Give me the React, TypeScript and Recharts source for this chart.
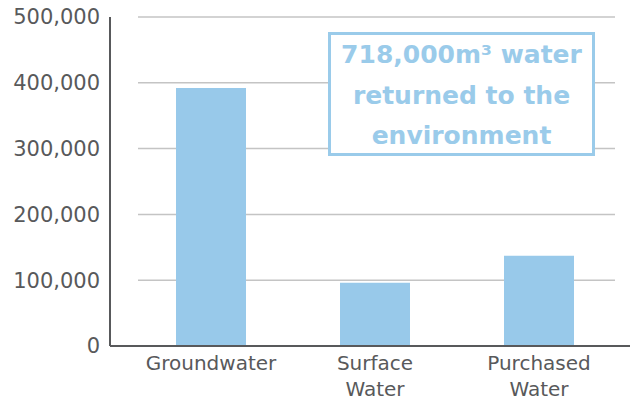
import React from "react";
import { BarChart, Bar, XAxis, YAxis, CartesianGrid } from "recharts";

// Water withdrawal by source, in cubic metres
const categories = ["Groundwater", "Surface Water", "Purchased Water"];
const withdrawals = [392000, 96000, 137000];
const yTicks = [0, 100000, 200000, 300000, 400000, 500000];
const returnedToEnvironment = 718000;

const data = categories.map((name, i) => ({ name, value: withdrawals[i] }));

const FONT = "'DejaVu Sans', sans-serif";
const AXIS_GREY = "#58595b";
const GRID_GREY = "#c4c4c4";
const BAR_BLUE = "#98c9ea";
const CALLOUT_BLUE = "#9acbea";

const fmt = (v: number) => v.toLocaleString("en-US");

// Category labels break onto one line per word
function CategoryTick(props: any) {
  const { x, y, payload } = props;
  const words = String(payload.value).split(" ");
  return (
    <text x={x} y={y} textAnchor="middle" fill={AXIS_GREY} fontFamily={FONT} fontSize={20}>
      {words.map((w, i) => (
        <tspan key={i} x={x} dy={i === 0 ? 23.5 : 26.5}>
          {w}
        </tspan>
      ))}
    </text>
  );
}

// Gridlines are inset from the value axis and stop short of the right edge
function GridLine(props: any) {
  const { x1, x2, y1, y2 } = props;
  return (
    <line
      x1={x1 + 28}
      x2={x2 - 15}
      y1={y1}
      y2={y2}
      stroke={GRID_GREY}
      strokeWidth={1.5}
    />
  );
}

export default function App() {
  return (
    <div style={{ position: "absolute", left: 0, top: 0, width: 630, height: 400, background: "#fff" }}>
      <BarChart
        width={630}
        height={400}
        data={data}
        margin={{ top: 17, right: 0, bottom: 0, left: 0 }}
        barSize={70}
      >
        <CartesianGrid vertical={false} horizontal={GridLine} />
        <XAxis
          dataKey="name"
          interval={0}
          height={54}
          padding={{ left: 19, right: 9 }}
          tickLine={false}
          tickSize={0}
          tickMargin={0}
          axisLine={{ stroke: AXIS_GREY, strokeWidth: 2 }}
          tick={<CategoryTick />}
        />
        <YAxis
          type="number"
          domain={[0, 500000]}
          ticks={yTicks}
          tickFormatter={fmt}
          width={110}
          tickLine={false}
          tickSize={0}
          tickMargin={10}
          axisLine={{ stroke: AXIS_GREY, strokeWidth: 2 }}
          tick={{ fill: AXIS_GREY, fontSize: 21, fontFamily: FONT }}
        />
        <Bar dataKey="value" fill={BAR_BLUE} isAnimationActive={false} />
      </BarChart>
      <div
        style={{
          position: "absolute",
          left: 328,
          top: 32,
          width: 267,
          height: 124,
          boxSizing: "border-box",
          border: `3px solid ${CALLOUT_BLUE}`,
          background: "#fff",
          paddingTop: 0,
          textAlign: "center",
          color: CALLOUT_BLUE,
          fontFamily: FONT,
          fontWeight: "bold",
          fontSize: 25,
          lineHeight: "40.5px",
          whiteSpace: "nowrap",
        }}
      >
        <div>{fmt(returnedToEnvironment)}m³ water</div>
        <div>returned to the</div>
        <div>environment</div>
      </div>
    </div>
  );
}
